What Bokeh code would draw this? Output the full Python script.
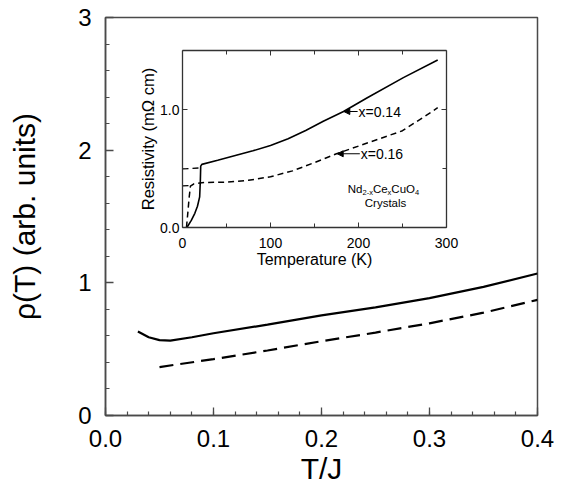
from bokeh.plotting import figure
from bokeh.models import Range1d, LinearAxis, FixedTicker, PrintfTickFormatter, Arrow, NormalHead
from bokeh.core.properties import value
from bokeh.embed import file_html
from bokeh.resources import INLINE

# ---------------- main panel data (T/J vs rho) ----------------
tj_solid = [0.03, 0.04, 0.05, 0.06, 0.08, 0.10, 0.15, 0.20, 0.25, 0.30, 0.35, 0.40]
rho_solid = [0.633, 0.59, 0.568, 0.565, 0.59, 0.62, 0.685, 0.755, 0.815, 0.885, 0.97, 1.07]
tj_dash = [0.05, 0.10, 0.15, 0.20, 0.25, 0.30, 0.35, 0.40]
rho_dash = [0.365, 0.425, 0.49, 0.56, 0.625, 0.695, 0.775, 0.872]

x_major = [0.0, 0.1, 0.2, 0.3, 0.4]
x_minor = [round(0.02 * i, 2) for i in range(21)]
y_major = [0, 1, 2, 3]
y_minor = [round(0.2 * i, 1) for i in range(16)]

# ---------------- inset data (Temperature K vs resistivity) ----------------
T_014 = [5, 10, 14, 17, 19.5, 20.3, 20.7, 22, 40, 60, 80, 100, 120, 140, 160, 183, 210, 251, 290]
R_014 = [0.0, 0.06, 0.12, 0.18, 0.26, 0.40, 0.52, 0.535, 0.57, 0.61, 0.65, 0.695, 0.752, 0.822, 0.90, 0.983, 1.10, 1.27, 1.42]
T_016 = [4.5, 6, 7.5, 9, 13, 22, 50, 75, 100, 125, 150, 175, 200, 225, 250, 282, 290]
R_016 = [0.0, 0.12, 0.25, 0.35, 0.37, 0.38, 0.385, 0.40, 0.43, 0.48, 0.55, 0.625, 0.69, 0.755, 0.82, 0.975, 1.015]
T_ext014 = [0, 20]
R_ext014 = [0.497, 0.505]
T_ext016 = [0, 9]
R_ext016 = [0.352, 0.355]

inset_x_major = [0, 100, 200, 300]
inset_x_minor = [50, 150, 250]
inset_y_major = [0.0, 1.0]
inset_y_minor = [0.5]

FONT = "Liberation Sans"
FRAME = "#4a4a4a"

W, H = 554, 487
FL, FR, FT, FB = 105, 537, 17, 415         # main frame edges (px)
IL, IR, IT, IB = 182, 446, 50, 227         # inset frame edges (px)
IX0, IX1, IY0, IY1 = 0.0, 300.0, 0.0, 1.5  # inset data extents

p = figure(width=W, height=H, output_backend="svg", toolbar_location=None,
           x_range=Range1d(0, 0.4), y_range=Range1d(0, 3),
           min_border_left=FL, min_border_right=W - FR,
           min_border_top=FT, min_border_bottom=H - FB)
p.background_fill_color = "white"
p.border_fill_color = "white"
p.grid.visible = False
p.outline_line_color = FRAME
p.outline_line_width = 1.5

# extra ranges so the inset is drawn through Bokeh scales
sx = (IX1 - IX0) / (IR - IL)
sy = (IY1 - IY0) / (IB - IT)
p.extra_x_ranges = {"ix": Range1d(IX0 - (IL - FL) * sx, IX1 + (FR - IR) * sx)}
p.extra_y_ranges = {"iy": Range1d(IY0 - (FB - IB) * sy, IY1 + (IT - FT) * sy)}

# main axes
xa = p.xaxis[0]
xa.ticker = FixedTicker(ticks=x_major, minor_ticks=x_minor)
xa.formatter = PrintfTickFormatter(format="%.1f")
ya = p.yaxis[0]
ya.ticker = FixedTicker(ticks=y_major, minor_ticks=y_minor)
for ax in (xa, ya):
    ax.axis_line_color = FRAME
    ax.axis_line_width = 1.5
    ax.major_tick_line_color = FRAME
    ax.minor_tick_line_color = FRAME
    ax.major_tick_line_width = 1.3
    ax.minor_tick_line_width = 1.2
    ax.major_tick_in = 8
    ax.major_tick_out = 0
    ax.minor_tick_in = 4
    ax.minor_tick_out = 0
    ax.major_label_text_font = FONT
    ax.major_label_text_font_size = "24px"
    ax.major_label_text_color = "black"
    ax.axis_label_text_font = FONT
    ax.axis_label_text_font_style = "normal"
    ax.axis_label_text_color = "black"
    ax.axis_label_text_font_size = "30px"
xa.axis_label = "T/J"
xa.major_label_standoff = 14
xa.axis_label_standoff = 2
ya.axis_label = "\u03c1(T) (arb. units)"
ya.major_label_standoff = 14
ya.axis_label_standoff = 34

# main curves
p.line(tj_solid, rho_solid, line_color="black", line_width=2.2)
p.line(tj_dash, rho_dash, line_color="black", line_width=2.2, line_dash="14 7")

# inset frame axes
def inset_axis(side, fixed, bounds, ticks, minor, labels):
    ax = LinearAxis(x_range_name="ix", y_range_name="iy", fixed_location=fixed,
                    bounds=bounds, ticker=FixedTicker(ticks=ticks, minor_ticks=minor))
    ax.axis_line_color = "#333333"
    ax.axis_line_width = 1.3
    ax.major_tick_line_color = "#333333"
    ax.minor_tick_line_color = "#333333"
    ax.major_tick_in = 5
    ax.major_tick_out = 0
    ax.minor_tick_in = 4
    ax.minor_tick_out = 0
    ax.major_label_text_font = FONT
    ax.major_label_text_font_size = "14px"
    ax.major_label_text_color = "black"
    ax.axis_label_text_font = FONT
    ax.axis_label_text_font_style = "normal"
    ax.axis_label_text_color = "black"
    if not labels:
        ax.major_label_text_font_size = "0px"
        ax.major_label_text_alpha = 0
    p.add_layout(ax, side)
    return ax

ib = inset_axis("below", IY0, (IX0, IX1), inset_x_major, inset_x_minor, True)
ib.axis_label = "Temperature (K)"
ib.axis_label_text_font_size = "16px"
ib.major_label_standoff = 10
ib.axis_label_standoff = 0
it = inset_axis("above", IY1, (IX0, IX1), inset_x_major, inset_x_minor, False)
il = inset_axis("left", IX0, (IY0, IY1), inset_y_major, inset_y_minor, True)
il.formatter = PrintfTickFormatter(format="%.1f")
il.major_label_standoff = 3
il.axis_label = "Resistivity (m\u03a9 cm)"
il.axis_label_text_font_size = "16.5px"
il.axis_label_standoff = 0
ir = inset_axis("right", IX1, (IY0, IY1), inset_y_major, inset_y_minor, False)

# inset curves
kw = dict(x_range_name="ix", y_range_name="iy", line_color="black")
p.line(T_014, R_014, line_width=1.6, **kw)
p.line(T_016, R_016, line_width=1.5, line_dash="6 4", **kw)
p.line(T_ext014, R_ext014, line_width=1.3, line_dash="6 4", **kw)
p.line(T_ext016, R_ext016, line_width=1.3, line_dash="6 4", **kw)

# arrows + labels
for (xs, xe, yv, lab) in [(199, 183.3, 0.983, "x=0.14"), (201.5, 175.8, 0.625, "x=0.16")]:
    p.add_layout(Arrow(end=NormalHead(size=6, fill_color="black", line_color="black", line_width=1),
                       x_start=xs, y_start=yv, x_end=xe, y_end=yv,
                       x_range_name="ix", y_range_name="iy", line_width=1.2, line_color="black"))
    p.text(x=[xs + 1], y=[yv], text=[lab], x_range_name="ix", y_range_name="iy",
           text_font=value(FONT), text_font_size="14px", text_baseline="middle",
           text_align="left", text_color="black")

# chemical formula with subscripts
fx, fy = 228.4, 0.328
parts = [("Nd", -35.7, 0, "11.5px"), ("2-x", -21.0, 4, "7.5px"), ("Ce", -10.6, 0, "11.5px"),
         ("x", 4.1, 4, "7.5px"), ("CuO", 7.85, 0, "11.5px"), ("4", 31.5, 4, "7.5px")]
for txt, dx, dy, fs in parts:
    p.text(x=[fx], y=[fy], text=[txt], x_offset=dx, y_offset=dy, x_range_name="ix", y_range_name="iy",
           text_font=value(FONT), text_font_size=fs, text_baseline="alphabetic",
           text_align="left", text_color="black")
p.text(x=[230.7], y=[0.206], text=["Crystals"], x_range_name="ix", y_range_name="iy",
       text_font=value(FONT), text_font_size="11.5px", text_baseline="alphabetic",
       text_align="center", text_color="black")

open("out.html", "w").write(file_html(p, INLINE))
